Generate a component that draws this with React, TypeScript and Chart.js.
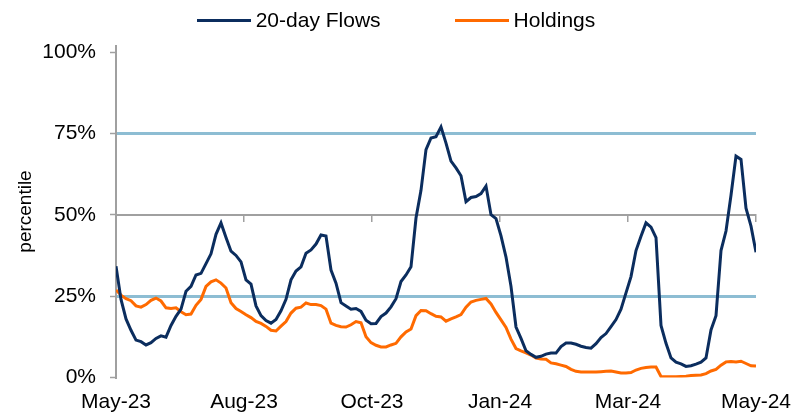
import React, { useEffect, useRef } from "react";
import { Chart, registerables } from "chart.js";

Chart.register(...registerables);

const tickLabels = ["May-23", "Aug-23", "Oct-23", "Jan-24", "Mar-24", "May-24"];

const seriesNames = ["20-day Flows", "Holdings"];
const seriesColors = ["#0B2D5E", "#FF6A00"];

const flows = [
  34.2, 24, 18, 14.5, 11.5, 11, 10, 10.7, 12, 12.8,
  12.4, 16, 18.8, 21, 26.5, 28, 31.5, 32, 35, 38,
  44, 47.5, 43, 38.8, 37.5, 35.5, 30, 28.7, 22, 19,
  17.5, 16.7, 17.8, 20.5, 24, 30, 32.7, 34, 38.2, 39.2,
  41, 43.8, 43.5, 33, 29, 23, 22, 21, 21.2, 20.3,
  17.6, 16.5, 16.6, 18.7, 19.8, 21.7, 24.2, 29.5, 31.5, 34,
  49, 57.5, 70, 73.6, 74, 77, 72, 66.5, 64.4, 62,
  54, 55.3, 55.6, 56.5, 58.8, 50, 48.8, 43.5, 37, 28,
  15.5, 12, 8.2, 7.1, 6.2, 6.5, 7.2, 7.5, 7.5, 9.5,
  10.6, 10.6, 10.2, 9.6, 9.2, 9, 10.4, 12.3, 13.5, 15.6,
  17.8, 21, 26, 31, 39, 43.4, 47.5, 46.2, 43, 16,
  10.5, 6, 4.7, 4.2, 3.4, 3.6, 4.1, 4.7, 6, 14.6,
  19, 39, 45, 56, 68, 67, 52, 46.5, 38.5,
];

const holdings = [
  26.9, 25.3, 24.2, 23.6, 22, 21.6, 22.4, 23.7, 24.4, 23.5,
  21.4, 21.2, 21.4, 20.2, 19.3, 19.5, 22.2, 24, 28, 29.4,
  30, 29, 27.5, 23, 21.2, 20.3, 19.3, 18.4, 17.2, 16.6,
  15.7, 14.5, 14.3, 15.8, 17.2, 19.8, 21.3, 21.6, 22.9, 22.4,
  22.4, 22.1, 21, 16.7, 16, 15.6, 15.5, 16.2, 17.2, 16.8,
  12.5, 10.7, 9.9, 9.4, 9.4, 10, 10.5, 12.5, 14, 14.9,
  19, 20.6, 20.5, 19.6, 18.8, 18.6, 17.3, 18, 18.6, 19.3,
  21.6, 23.2, 23.7, 24, 24.3, 22.6, 20, 17.7, 15.4, 11.8,
  8.9, 8.2, 7.6, 6.9, 6, 5.7, 5.6, 4.5, 4.2, 3.8,
  3.4, 2.5, 1.9, 1.7, 1.7, 1.7, 1.7, 1.8, 1.9, 2,
  1.7, 1.4, 1.4, 1.5, 2.3, 2.8, 3.1, 3.2, 3.2, 0.3,
  0.2, 0.2, 0.2, 0.3, 0.4, 0.6, 0.7, 0.8, 1.2, 2,
  2.5, 3.8, 4.8, 4.9, 4.8, 5, 4.3, 3.6, 3.5,
];

const refLevels = [25, 75];
const yTicks = [0, 25, 50, 75, 100];
const axisCrossValue = 50;

const FONT = "'Liberation Sans', Arial, sans-serif";
const GRAY = "#A0A0A0";
const REF_BLUE = "#8DBDD3";

export default function App() {
  const canvasRef = useRef<HTMLCanvasElement | null>(null);

  useEffect(() => {
    if (!canvasRef.current) return;
    const n = flows.length;
    const lastIdx = n - 1;
    const step = lastIdx / (tickLabels.length - 1);
    const indexLabels = flows.map((_, i) => i);

    const chart = new Chart(canvasRef.current, {
      type: "line",
      data: {
        labels: indexLabels,
        datasets: [
          {
            label: seriesNames[0],
            data: flows,
            borderColor: seriesColors[0],
            backgroundColor: seriesColors[0],
            borderWidth: 3,
            pointRadius: 0,
            tension: 0,
          },
          {
            label: seriesNames[1],
            data: holdings,
            borderColor: seriesColors[1],
            backgroundColor: seriesColors[1],
            borderWidth: 3,
            pointRadius: 0,
            tension: 0,
          },
        ],
      },
      options: {
        animation: false,
        responsive: false,
        maintainAspectRatio: false,
        layout: { padding: { left: 10, right: 36, top: 45.5, bottom: 0 } },
        plugins: {
          legend: { display: false },
          tooltip: { enabled: false },
        },
        scales: {
          x: {
            type: "linear",
            position: "bottom",
            min: 0,
            max: lastIdx,
            afterFit: (s: any) => {
              s.height = 36.5;
              s.paddingLeft = 0;
              s.paddingRight = 0;
            },
            border: { display: false },
            grid: { display: false, drawTicks: false },
            ticks: {
              stepSize: step,
              autoSkip: false,
              maxRotation: 0,
              padding: 12,
              color: "#000",
              font: { family: FONT, size: 21, lineHeight: 1.2 },
              callback: (v: any) => tickLabels[Math.round(Number(v) / step)] ?? "",
            },
          },
          xMid: {
            type: "linear",
            position: { y: axisCrossValue } as any,
            min: 0,
            max: lastIdx,
            afterFit: (s: any) => {
              s.height = 0;
              s.paddingLeft = 0;
              s.paddingRight = 0;
            },
            border: { display: true, color: GRAY, width: 2 },
            grid: {
              drawOnChartArea: false,
              drawTicks: true,
              tickLength: 6,
              color: GRAY,
              lineWidth: 1.5,
            },
            ticks: { display: false, stepSize: step, autoSkip: false },
          },
          y: {
            type: "linear",
            position: "left",
            min: 0,
            max: 102,
            afterFit: (s: any) => {
              s.width = 106;
            },
            afterBuildTicks: (s: any) => {
              s.ticks = yTicks.map((v) => ({ value: v }));
            },
            border: { display: true, color: GRAY, width: 2 },
            grid: {
              drawOnChartArea: true,
              color: (ctx: any) =>
                ctx.tick && refLevels.includes(ctx.tick.value) ? REF_BLUE : "rgba(0,0,0,0)",
              lineWidth: 3,
              tickColor: GRAY,
              tickWidth: 1.5,
              tickLength: 6,
            },
            ticks: {
              padding: 14,
              color: "#000",
              font: { family: FONT, size: 21, lineHeight: 1.2 },
              callback: (v: any) => `${v}%`,
            },
            title: {
              display: true,
              text: "percentile",
              color: "#000",
              font: { family: FONT, size: 19, lineHeight: 1.2 },
              padding: { top: 4, bottom: 0 },
            },
          },
        },
      },
    });
    return () => chart.destroy();
  }, []);

  return (
    <div
      style={{
        position: "fixed",
        left: 0,
        top: 0,
        width: 792,
        height: 414,
        background: "#fff",
      }}
    >
      <canvas ref={canvasRef} width={792} height={414} style={{ display: "block" }} />
      <div
        style={{
          position: "absolute",
          top: 8,
          left: 0,
          width: 792,
          height: 24,
          display: "flex",
          justifyContent: "center",
          alignItems: "center",
          gap: 74,
          fontFamily: FONT,
          fontSize: 21,
          lineHeight: "24px",
          color: "#000",
        }}
      >
        {seriesNames.map((name, i) => (
          <div key={name} style={{ display: "flex", alignItems: "center" }}>
            <span
              style={{
                display: "inline-block",
                width: 54,
                height: 3,
                background: seriesColors[i],
                marginRight: 5,
              }}
            />
            <span>{name}</span>
          </div>
        ))}
      </div>
    </div>
  );
}
